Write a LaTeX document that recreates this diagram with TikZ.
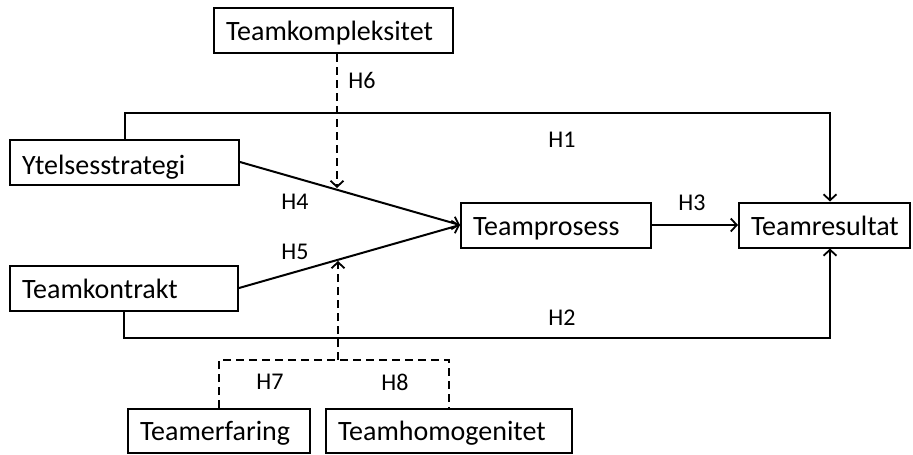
\documentclass[tikz,border=0pt]{standalone}
\usepackage{fontspec}
\setmainfont{Carlito}
\usetikzlibrary{arrows.meta}
\begin{document}
\begin{tikzpicture}[x=1pt,y=-1pt,
  box/.style={draw,line width=2pt,minimum height=45pt,inner xsep=12pt,inner ysep=0pt,align=left,text height=20pt,text depth=0pt,font=\fontsize{28}{30}\selectfont},
  lab/.style={font=\fontsize{24}{26}\selectfont},
  con/.style={line width=2pt},
  tip/.style={-{Straight Barb[length=6pt,width=13pt,line width=1.8pt]}},
  arr/.style={con,tip},
  dsh/.style={con,dash pattern=on 8pt off 5pt}]
\useasboundingbox (0,0) rectangle (913,455);
\node[box,text width=215pt] (tk) at (333.5,30.5) {Teamkompleksitet};
\node[box,text width=205pt,text height=24pt] (ys) at (124.5,162) {Ytelsesstrategi};
\node[box,text width=204pt] (kt) at (124,288) {Teamkontrakt};
\node[box,text width=166pt] (tp) at (556,225) {Teamprosess};
\node[box,text width=147pt] (tr) at (824.5,225) {Teamresultat};
\node[box,text width=158pt,minimum height=44pt,text height=18pt] (te) at (219,431) {Teamerfaring};
\node[box,text width=222pt,minimum height=44pt,text height=18pt] (th) at (449,431) {Teamhomogenitet};
\coordinate (h6tip) at (337,188);
\coordinate (h5tip) at (338,261);
\coordinate (jn) at (338,360);
% H1, H2
\draw[arr] (ys.north) -- ++(0,-26) -| ([xshift=5.5pt]tr.north);
\draw[arr] (kt.south) -- ++(0,26) -| ([xshift=5.5pt]tr.south);
% H3
\draw[arr] (tp.east) -- (tr.west);
% H4, H5
\draw[arr] (ys.east) -- (tp.west);
\draw[arr] (kt.east) -- (tp.west);
% H6
\draw[dsh,tip] ([xshift=3.5pt]tk.south) -- (h6tip);
% H7, H8
\draw[dsh] (te.north) -- (te.north |- jn) -- (jn) -- (th.north |- jn) -- (th.north);
\draw[dsh,tip] (jn) -- (h5tip);
\node[lab] (l1) at (562,140) {H1};
\node[lab] (l2) at (562,318) {H2};
\node[lab] (l3) at (692,203) {H3};
\node[lab] (l4) at (295,202) {H4};
\node[lab] (l5) at (295,252) {H5};
\node[lab] (l6) at (362,80) {H6};
\node[lab] (l7) at (270,382) {H7};
\node[lab] (l8) at (395,382) {H8};
\end{tikzpicture}
\end{document}
